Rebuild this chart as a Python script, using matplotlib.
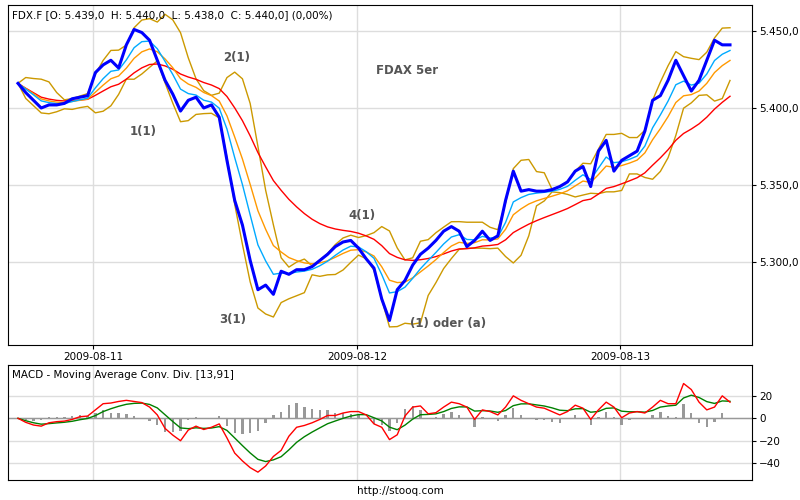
import matplotlib
matplotlib.use("Agg")
import matplotlib.pyplot as plt
import numpy as np
import pandas as pd

close = [5416,5410,5405,5400,5402,5402,5403,5406,5407,5408,5423,5428,5431,5426,5441,5451,5449,5444,5431,5418,5409,5398,5405,5407,5400,5402,5394,5366,5340,5324,5301,5282,5285,5279,5294,5292,5295,5295,5297,5301,5305,5310,5313,5314,5309,5302,5296,5276,5262,5282,5288,5298,5305,5309,5314,5320,5323,5320,5310,5314,5320,5314,5317,5340,5359,5346,5347,5346,5346,5347,5349,5352,5359,5362,5349,5372,5379,5359,5366,5369,5372,5385,5405,5408,5418,5431,5421,5411,5418,5431,5444,5441,5441]
macd = [0,-3.6,-6,-7,-4,-3,-2.5,-1,1.4,2,7.5,13,13.6,15,16,15,14,10,3,-9,-15,-20,-10.5,-7,-10,-8,-5,-17.5,-31,-38,-44,-48,-42.5,-34,-28.6,-16,-8,-6.4,-4,-1,2.5,2.5,4.7,6,6,3,-5,-8,-19,-14.7,2,10,11,4,5,10,14.4,13,10,-1,7.5,6,3,10,20,16,13,10,9,6,3,6,11.7,9,-1,7.5,14.4,10,0.5,4.7,6,4.7,10,16,13,13,31,25.6,14.4,7.5,10,20,14.4]
date_labels = ["2009-08-11","2009-08-12","2009-08-13"]
header = "FDX.F [O: 5.439,0  H: 5.440,0  L: 5.438,0  C: 5.440,0] (0,00%)"

n = len(close)
s = pd.Series(close, dtype=float)
fast = s.ewm(span=4).mean()
mid = s.ewm(span=7).mean()
slow = s.ewm(span=18).mean()
bm = s.rolling(5, min_periods=1).mean()
bs = s.rolling(5, min_periods=1).std().fillna(0)
up = bm + 1.6*bs
lo = bm - 1.6*bs
m = pd.Series(macd)
sig = m.ewm(span=5).mean()
hist = m - sig

def px(x):  # pixel x -> index
    return (x-18)/712*(n-1)
def py(y):
    return 5450-(y-31)*50/77

def fmt(v):
    v = int(round(v))
    return f"{v//1000}.{v%1000:03d},0"

fig = plt.figure(figsize=(8,5), dpi=100)
ax = fig.add_axes([0.01, 0.31, 0.93, 0.68])
idx = np.arange(n)
ax.plot(idx, up, color="#CC9900", lw=1)
ax.plot(idx, lo, color="#CC9900", lw=1)
ax.plot(idx, slow, color="red", lw=1)
ax.plot(idx, mid, color="#FF9900", lw=1)
ax.plot(idx, fast, color="#00AAFF", lw=1)
ax.plot(idx, s, color="#0000FF", lw=2.2)
ax.set_xlim(px(8), px(752))
ax.set_ylim(py(345), py(5))
ticks = [px(93), px(357), px(620)]
ax.set_xticks(ticks)
ax.set_xticklabels(date_labels, fontsize=7.5)
yt = [5300,5350,5400,5450]
ax.set_yticks(yt)
ax.set_yticklabels([fmt(v) for v in yt], fontsize=7.5)
ax.yaxis.tick_right()
ax.tick_params(length=3, pad=2)
ax.grid(True, color="#DDDDDD", lw=1)
ax.set_axisbelow(True)
ax.text(0.005, 0.985, header, transform=ax.transAxes, fontsize=7.5, va="top")
for t,(x,y) in {"2(1)":(237,58),"1(1)":(143,132),"FDAX 5er":(407,70),"4(1)":(362,215),"3(1)":(233,320),"(1) oder (a)":(448,323)}.items():
    ax.text(px(x), py(y), t, ha="center", va="center", fontsize=8.5, color="#555555", fontweight="bold")

ax2 = fig.add_axes([0.01, 0.04, 0.93, 0.23])
ax2.bar(idx, hist, width=0.3, color="#999999")
ax2.axhline(0, color="#999999", lw=1)
ax2.plot(idx, sig, color="green", lw=1)
ax2.plot(idx, m, color="red", lw=1)
ax2.set_xlim(px(8), px(752))
ax2.set_ylim(-55, 47.5)
ax2.set_xticks(ticks)
ax2.set_xticklabels([])
ax2.tick_params(axis="x", length=0)
ax2.set_yticks([-40,-20,0,20])
ax2.yaxis.tick_right()
ax2.tick_params(axis="y", labelsize=7.5, length=3, pad=2)
ax2.grid(True, color="#DDDDDD", lw=1)
ax2.set_axisbelow(True)
ax2.text(0.005, 0.96, "MACD - Moving Average Conv. Div. [13,91]", transform=ax2.transAxes, fontsize=7.5, va="top")
fig.text(0.5, 0.012, "http://stooq.com", ha="center", fontsize=7.5)
fig.savefig("out.png")
